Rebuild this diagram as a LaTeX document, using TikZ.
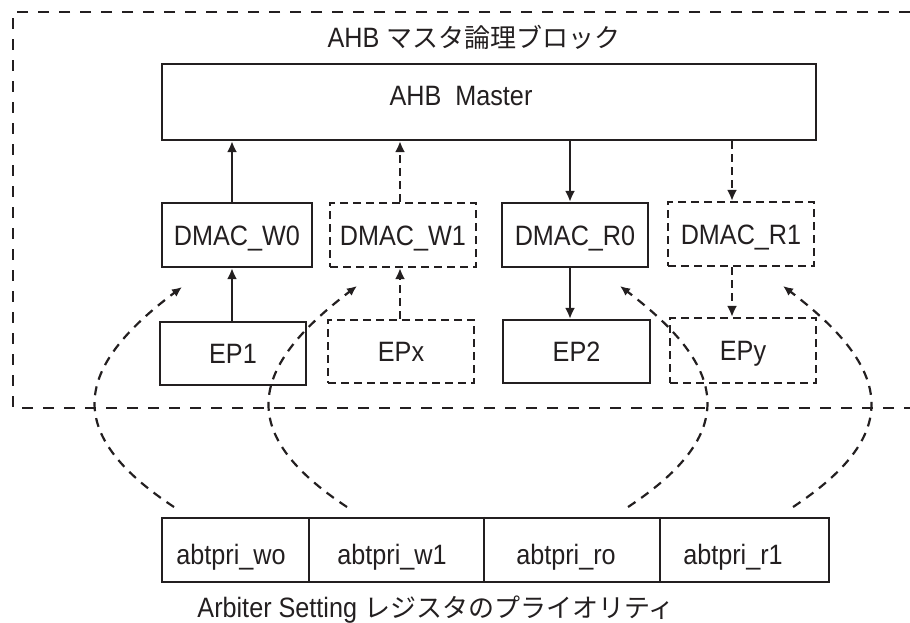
\documentclass[tikz,border=0pt]{standalone}
\usepackage{fontspec}
\setmainfont[FakeStretch=0.9]{Liberation Sans}
\newfontfamily\cjkf{Noto Sans CJK JP}
\newcommand\jp[1]{{\cjkf\fontsize{26}{30}\selectfont #1}}
\usetikzlibrary{arrows.meta}
\definecolor{ink}{HTML}{231F20}
\begin{document}
\begin{tikzpicture}[x=1pt,y=-1pt, color=ink,
  every node/.style={font=\fontsize{28}{30}\selectfont, inner sep=0pt},
  box/.style={draw, line width=2.2pt, minimum height=64pt, text height=20pt, text depth=0pt},
  dbox/.style={box, dash pattern=on 8pt off 5pt},
  arr/.style={line width=2.2pt, -{Latex[length=11pt,width=10pt]}},
  darr/.style={arr, dash pattern=on 8pt off 5pt},
  carr/.style={line width=2.2pt, dash pattern=on 9pt off 7pt, -{Latex[length=10pt,width=9pt]}},
  outer/.style={line width=2.2pt, dash pattern=on 11pt off 10pt}
]
\useasboundingbox (0,0) rectangle (910,622);

% outer dashed block
\coordinate (o1) at (910,12);
\coordinate (o2) at (13,12);
\coordinate (o3) at (13,408);
\coordinate (o4) at (910,408);
\draw[outer] (o1) -- (o2) -- (o3) -- (o4);

\node[anchor=base] (title) at (474,47) {AHB \jp{マスタ論理ブロック}};

% AHB master
\node[draw, line width=2.2pt, minimum width=654pt, minimum height=76pt] (m) at (489,102) {};
\node[anchor=base] (mt) at (461,105) {AHB\ \ Master};

% DMAC boxes
\node[box, minimum width=150pt] (w0) at (237,235) {DMAC\_W0};
\node[dbox, minimum width=146pt] (w1) at (403,235) {DMAC\_W1};
\node[box, minimum width=146pt] (r0) at (575,235) {DMAC\_R0};
\node[dbox, minimum width=146pt] (r1) at (741,234) {DMAC\_R1};

% EP boxes
\node[box, minimum width=146pt, minimum height=63pt] (ep1) at (233,353.5) {EP1};
\node[dbox, minimum width=146pt, minimum height=63pt] (epx) at (401,351.5) {EPx};
\node[box, minimum width=147pt, minimum height=63pt] (ep2) at (576.5,351.5) {EP2};
\node[dbox, minimum width=146pt, minimum height=65pt] (epy) at (743,350.5) {EPy};

% arrow columns
\coordinate (a1) at (232,0);
\coordinate (a2) at (400,0);
\coordinate (a3) at (570,0);
\coordinate (a4) at (732,0);
\draw[arr] (w0.north -| a1) -- (m.south -| a1);
\draw[darr] (w1.north -| a2) -- (m.south -| a2);
\draw[arr] (m.south -| a3) -- (r0.north -| a3);
\draw[darr] (m.south -| a4) -- (r1.north -| a4);
\draw[arr] (ep1.north -| a1) -- (w0.south -| a1);
\draw[darr] (epx.north -| a2) -- (w1.south -| a2);
\draw[arr] (r0.south -| a3) -- (ep2.north -| a3);
\draw[darr] (r1.south -| a4) -- (epy.north -| a4);

% register
\node[draw, line width=2.2pt, minimum width=667pt, minimum height=64pt] (reg) at (495.5,550) {};
\coordinate (d1) at (309,0);
\coordinate (d2) at (484,0);
\coordinate (d3) at (660,0);
\draw[line width=2.2pt] (reg.north -| d1) -- (reg.south -| d1);
\draw[line width=2.2pt] (reg.north -| d2) -- (reg.south -| d2);
\draw[line width=2.2pt] (reg.north -| d3) -- (reg.south -| d3);
\node[anchor=base] (f1) at (231,564) {abtpri\_wo};
\node[anchor=base] (f2) at (392,564) {abtpri\_w1};
\node[anchor=base] (f3) at (566,564) {abtpri\_ro};
\node[anchor=base] (f4) at (733,564) {abtpri\_r1};

\node[anchor=base] (cap) at (436,617) {Arbiter Setting \jp{レジスタのプライオリティ}};

% priority curves
\coordinate (s1) at (174,507);
\coordinate (s2) at (347,507);
\coordinate (s3) at (628,507);
\coordinate (s4) at (793,507);
\coordinate (t1) at (182,287);
\coordinate (t2) at (357,286);
\coordinate (t3) at (620,286);
\coordinate (t4) at (783,286);
\draw[carr] (s1) .. controls (62,433) and (74,368) .. (t1);
\draw[carr] (s2) .. controls (235,433) and (249,368) .. (t2);
\draw[carr] (s3) .. controls (740,433) and (728,368) .. (t3);
\draw[carr] (s4) .. controls (905,433) and (891,368) .. (t4);
\end{tikzpicture}
\end{document}
